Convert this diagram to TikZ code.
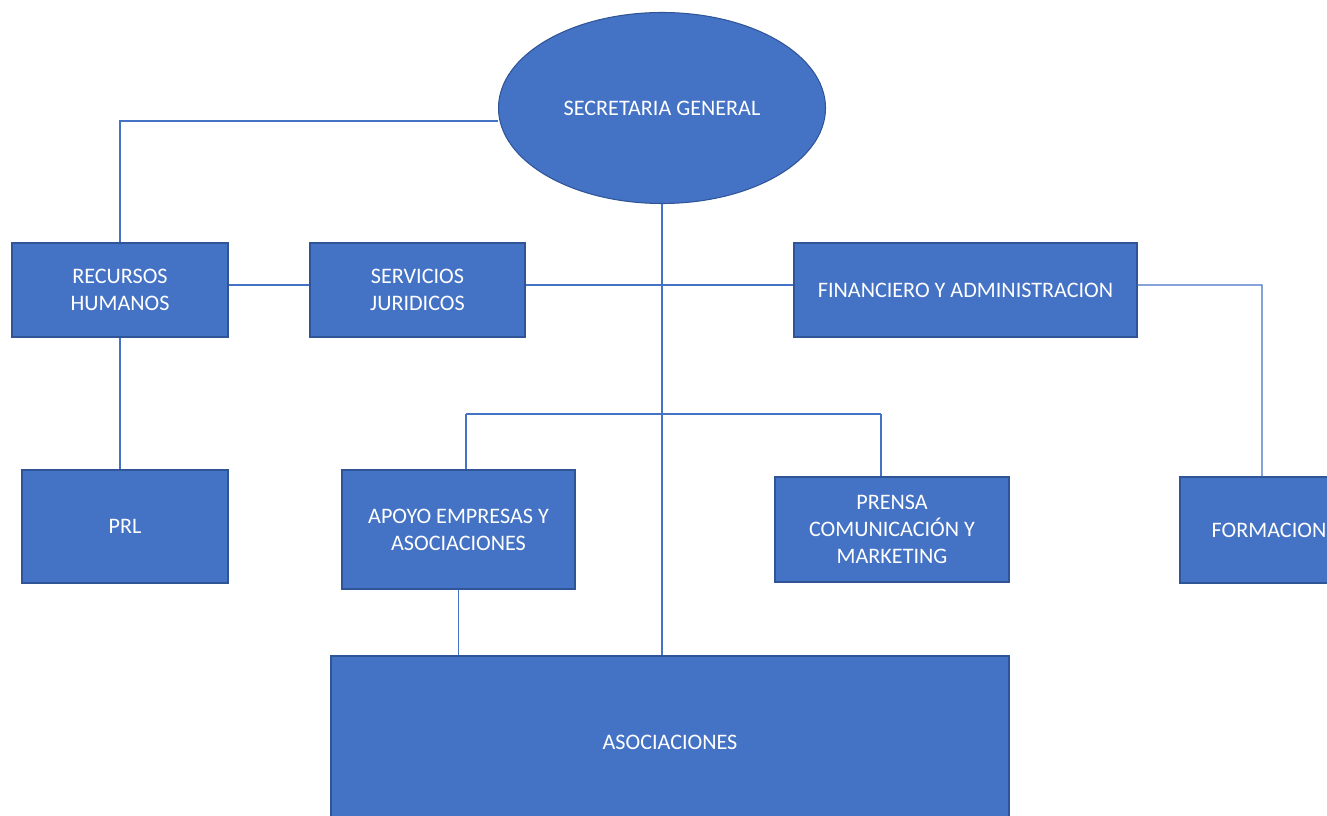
\documentclass[tikz,border=0pt]{standalone}
\usepackage{fontspec}
\setmainfont{Carlito}
\usetikzlibrary{shapes.geometric}
\definecolor{azul}{HTML}{4472C4}
\definecolor{borde}{HTML}{2F5597}
\tikzset{>=stealth,
  caja/.style={draw=borde, line width=0.6pt, fill=azul, text=white, align=center,
    inner sep=0pt, font=\fontsize{12.6}{15.4}\selectfont},
  linea/.style={draw=azul, line width=0.7pt}}

\begin{document}
\begin{tikzpicture}
\useasboundingbox (0,0) rectangle (26.54,-16.32);
\node[caja, ellipse, minimum width=6.54cm, minimum height=3.82cm] (sg) at (13.24,-2.16) {SECRETARIA GENERAL};
\node[caja, minimum width=4.32cm, minimum height=1.88cm] (rh) at (2.4,-5.8) {RECURSOS\\HUMANOS};
\node[caja, minimum width=4.3cm, minimum height=1.88cm] (sj) at (8.35,-5.8) {SERVICIOS\\JURIDICOS};
\node[caja, minimum width=6.86cm, minimum height=1.88cm] (fa) at (19.31,-5.8) {FINANCIERO Y ADMINISTRACION};
\node[caja, minimum width=4.12cm, minimum height=2.26cm] (prl) at (2.5,-10.53) {PRL};
\node[caja, minimum width=4.66cm, minimum height=2.38cm] (ae) at (9.17,-10.59) {APOYO EMPRESAS Y\\ASOCIACIONES};
\node[caja, minimum width=4.68cm, minimum height=2.1cm] (pcm) at (17.84,-10.59) {PRENSA\\COMUNICACIÓN Y\\MARKETING};
\node[caja, minimum width=3.56cm, minimum height=2.12cm] (form) at (25.38,-10.6) {FORMACION};
\node[caja, minimum width=13.56cm, minimum height=3.44cm] (asoc) at (13.4,-14.84) {ASOCIACIONES};
% conexiones
\coordinate (bl) at (9.32,-8.28);
\coordinate (br) at (17.62,-8.28);
\coordinate (fr) at (25.24,-5.7);
\draw[linea] (rh.north) |- ([yshift=-0.26cm]sg.west);
\draw[linea] ([yshift=1mm]rh.east) -- ([yshift=1mm]sj.west);
\draw[linea] ([yshift=1mm]sj.east) -- ([yshift=1mm]fa.west);
\draw[linea] (rh.south) -- (rh.south |- prl.north);
\draw[linea] (sg.south) -- (sg.south |- asoc.north);
\draw[linea] (bl) -- (br);
\draw[linea] (bl) -- (bl |- ae.north);
\draw[linea] (br) -- (br |- pcm.north);
\draw[linea] ([yshift=1mm]fa.east) -- (fr) -- (fr |- form.north);
\draw[linea] (ae.south) -- (ae.south |- asoc.north);
\end{tikzpicture}
\end{document}
